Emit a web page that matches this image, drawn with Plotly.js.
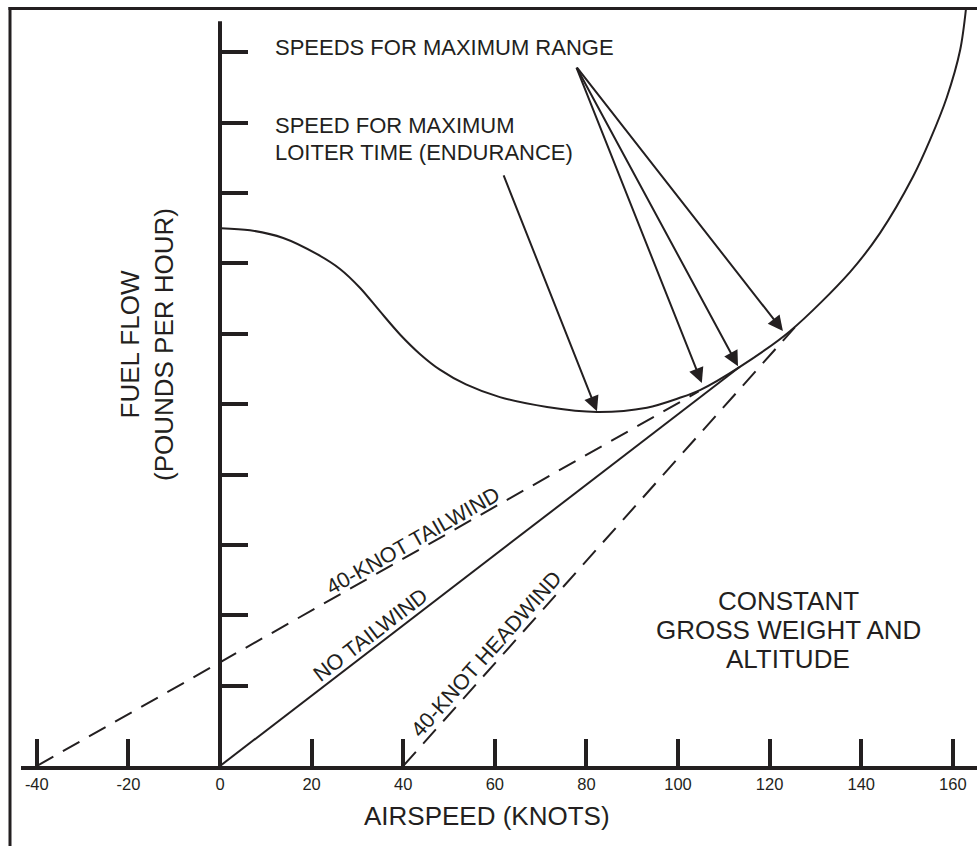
<!DOCTYPE html>
<html>
<head>
<meta charset="utf-8">
<script src="https://cdn.plot.ly/plotly-3.0.1.min.js"></script>
<style>html,body{margin:0;padding:0;background:#fff;}#chart{width:977px;height:846px;}</style>
</head>
<body>
<div id="chart"></div>
<script>
// ---- data (airspeed in knots, fuel flow in arbitrary chart units; one y tick = 10 units) ----
const curveSpeed = [0.2, 6.55, 13.8, 21.2, 26.2, 30.6, 34.9, 39.3, 43.7, 48.0, 53.7, 61.1, 71.4, 82.3, 93.2, 100.4, 104.8, 113.5, 124.5, 137.6, 144.1, 151.3, 155.0, 158.7, 161.6, 162.9];
const curveFuel  = [76.4, 76.1, 75.0, 72.7, 70.6, 67.9, 64.6, 61.3, 58.5, 56.3, 54.2, 52.4, 51.0, 50.3, 50.9, 52.3, 53.4, 56.7, 61.8, 70.2, 75.7, 83.7, 88.9, 95.0, 101.7, 107.7];

const tailwindSpeed = [-40, 104.5];
const tailwindFuel  = [0, 53.2];
const noWindSpeed   = [0, 113.5];
const noWindFuel    = [0, 56.7];
const headwindSpeed = [40, 125.5];
const headwindFuel  = [0, 62.3];

const speedTicks = [-40, -20, 0, 20, 40, 60, 80, 100, 120, 140, 160];
const speedTickText = ['-40', '-20', '0', '20', '40', '60', '80', '100', '120', '140', '160'];
const fuelTicks = [11.4, 21.4, 31.4, 41.4, 51.4, 61.4, 71.4, 81.4, 91.4, 101.4];
const fuelAxisTop = 105.8;

// arrow tips and tails [speed, fuel]
const rangeTips = [[105.2, 54.4], [113.1, 56.8], [122.9, 61.8]];
const rangeTail = [77.7, 99.4];
const loiterTip = [82.3, 50.4];
const loiterTail = [61.8, 84.1];

// ---- styling ----
const C = '#231f20';
const F = '"Liberation Sans", Arial, Helvetica, sans-serif';
const W = 977, H = 846, ML = 21, MR = 0, MT = 8, MB = 80;
const xRange = [-43.45, 165.28];
const yRange = [0, 107.67];
const pxX = (W - ML - MR) / (xRange[1] - xRange[0]);
const pxY = (H - MT - MB) / (yRange[1] - yRange[0]);
const toPaperX = px => (px - ML) / (W - ML - MR);
const toPaperY = py => (H - MB - py) / (H - MT - MB);

const traces = [
  {x: curveSpeed, y: curveFuel, mode: 'lines', line: {color: C, width: 2, shape: 'spline', smoothing: 0.9}},
  {x: tailwindSpeed, y: tailwindFuel, mode: 'lines', line: {color: C, width: 2, dash: '19px,11px'}},
  {x: noWindSpeed, y: noWindFuel, mode: 'lines', line: {color: C, width: 2}},
  {x: headwindSpeed, y: headwindFuel, mode: 'lines', line: {color: C, width: 2, dash: '19px,11px'}}
];

function lineLabel(xs, ys, atX, text, d) {
  const slope = (ys[1] - ys[0]) / (xs[1] - xs[0]);
  const y = ys[0] + slope * (atX - xs[0]);
  const ang = Math.atan(slope * pxY / pxX);
  return {x: atX, y: y, xref: 'x', yref: 'y', text: text, showarrow: false,
    textangle: -ang * 180 / Math.PI, xshift: -d * Math.sin(ang), yshift: d * Math.cos(ang),
    font: {family: F, size: 21.5, color: C}};
}

function arrow(tip, tail) {
  return {x: tip[0], y: tip[1], ax: tail[0], ay: tail[1], xref: 'x', yref: 'y', axref: 'x', ayref: 'y',
    text: '', showarrow: true, arrowhead: 2, arrowsize: 1.5, arrowwidth: 2, arrowcolor: C, standoff: 0, startstandoff: 0};
}

function txt(x, y, text, size, anchor) {
  return {x: x, y: y, xref: 'x', yref: 'y', text: text, showarrow: false, xanchor: anchor || 'left', yanchor: 'middle',
    font: {family: F, size: size, color: C}};
}

const annotations = [
  txt(11.6, 102.0, 'SPEEDS FOR MAXIMUM RANGE', 22),
  txt(11.6, 91.05, 'SPEED FOR MAXIMUM', 22),
  txt(11.6, 87.1, 'LOITER TIME (ENDURANCE)', 22),
  txt(124.1, 23.4, 'CONSTANT', 26, 'center'),
  txt(124.1, 19.3, 'GROSS WEIGHT AND', 26, 'center'),
  txt(124.1, 15.2, 'ALTITUDE', 26, 'center'),
  lineLabel(tailwindSpeed, tailwindFuel, 43.3, '40-KNOT TAILWIND', 11),
  lineLabel(noWindSpeed, noWindFuel, 34.5, 'NO TAILWIND', 12),
  lineLabel(headwindSpeed, headwindFuel, 60.2, '40-KNOT HEADWIND', 12),
  arrow(loiterTip, loiterTail),
  ...rangeTips.map(t => arrow(t, rangeTail)),
  {x: toPaperX(487), y: toPaperY(816), xref: 'paper', yref: 'paper', text: 'AIRSPEED (KNOTS)', showarrow: false,
   xanchor: 'center', yanchor: 'middle', font: {family: F, size: 26, color: C}},
  {x: toPaperX(147), y: toPaperY(345), xref: 'paper', yref: 'paper', text: 'FUEL FLOW<br>(POUNDS PER HOUR)', showarrow: false,
   textangle: -90, xanchor: 'center', yanchor: 'middle', font: {family: F, size: 26, color: C}}
];

const shapes = [
  {type: 'line', xref: 'x', yref: 'y', x0: 0, x1: 0, y0: 0, y1: fuelAxisTop, line: {color: C, width: 4}},
  {type: 'line', xref: 'paper', yref: 'paper', x0: toPaperX(8.5), x1: 1.01, y0: toPaperY(8.5), y1: toPaperY(8.5), line: {color: C, width: 3}},
  {type: 'line', xref: 'paper', yref: 'paper', x0: toPaperX(10), x1: toPaperX(10), y0: toPaperY(7), y1: toPaperY(850), line: {color: C, width: 3}}
];

const layout = {
  width: W, height: H,
  margin: {l: ML, r: MR, t: MT, b: MB, pad: 0},
  paper_bgcolor: '#ffffff', plot_bgcolor: '#ffffff',
  showlegend: false, hovermode: false,
  font: {family: F, color: C},
  xaxis: {range: xRange, showline: true, linewidth: 4, linecolor: C, ticks: 'inside', ticklen: 27, tickwidth: 4, tickcolor: C,
    tickmode: 'array', tickvals: speedTicks, ticktext: speedTickText, tickfont: {family: F, size: 16.5, color: C},
    showgrid: false, zeroline: false, fixedrange: true},
  yaxis: {range: yRange, anchor: 'free', position: (0 - xRange[0]) / (xRange[1] - xRange[0]), side: 'left',
    showline: false, ticks: 'inside', ticklen: 27, tickwidth: 4, tickcolor: C,
    tickmode: 'array', tickvals: fuelTicks, showticklabels: false, showgrid: false, zeroline: false, fixedrange: true},
  shapes: shapes,
  annotations: annotations
};

Plotly.newPlot('chart', traces, layout, {staticPlot: true, displayModeBar: false});
</script>
</body>
</html>
